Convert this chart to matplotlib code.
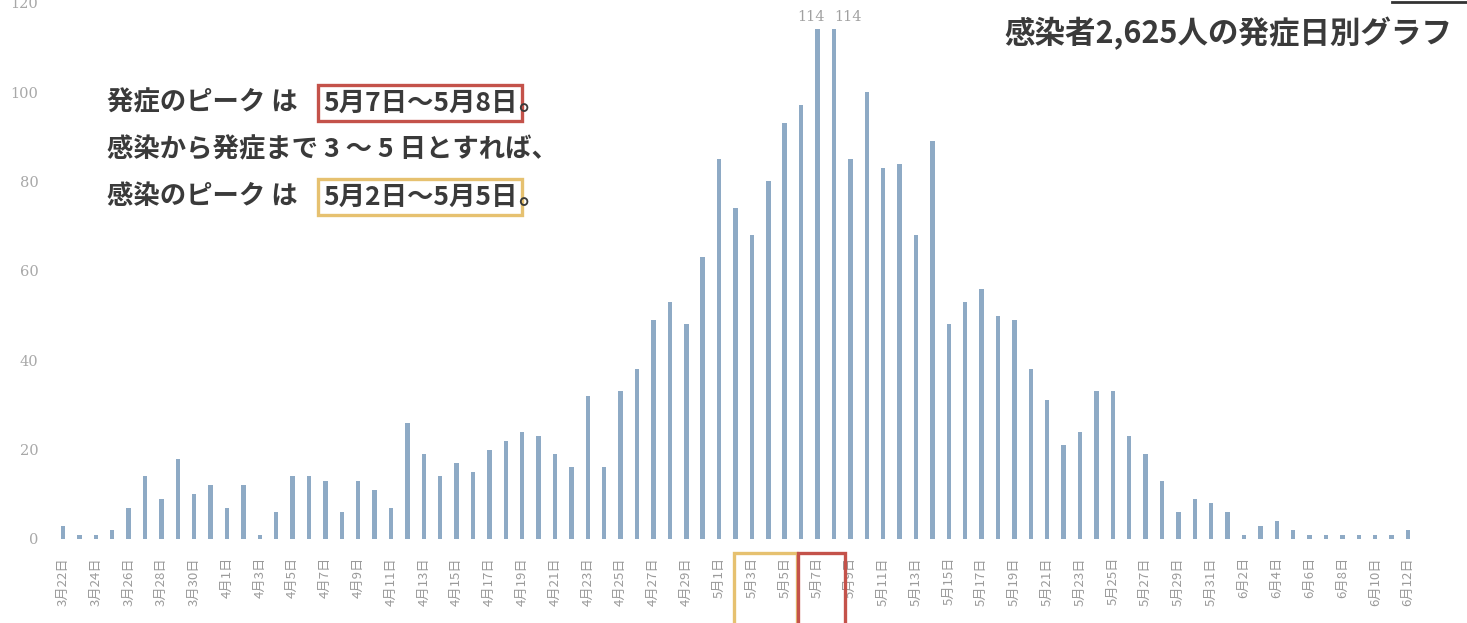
import matplotlib
matplotlib.use("Agg")
import matplotlib.pyplot as plt
from matplotlib.patches import Rectangle
from matplotlib.lines import Line2D
from matplotlib.transforms import blended_transform_factory

# cases by onset day, 3/22 .. 6/12
counts = [3, 1, 1, 2, 7, 14, 9, 18, 10, 12,
          7, 12, 1, 6, 14, 14, 13, 6, 13, 11,
          7, 26, 19, 14, 17, 15, 20, 22, 24, 23,
          19, 16, 32, 16, 33, 38, 49, 53, 48, 63,
          85, 74, 68, 80, 93, 97, 114, 114, 85, 100,
          83, 84, 68, 89, 48, 53, 56, 50, 49, 38,
          31, 21, 24, 33, 33, 23, 19, 13, 6, 9,
          8, 6, 1, 3, 4, 2, 1, 1, 1, 1,
          1, 1, 2]

# every other day is labelled
tick_labels = ["3月22日", "3月24日", "3月26日", "3月28日", "3月30日",
               "4月1日", "4月3日", "4月5日", "4月7日", "4月9日",
               "4月11日", "4月13日", "4月15日", "4月17日", "4月19日",
               "4月21日", "4月23日", "4月25日", "4月27日", "4月29日",
               "5月1日", "5月3日", "5月5日", "5月7日", "5月9日",
               "5月11日", "5月13日", "5月15日", "5月17日", "5月19日",
               "5月21日", "5月23日", "5月25日", "5月27日", "5月29日",
               "5月31日", "6月2日", "6月4日", "6月6日", "6月8日",
               "6月10日", "6月12日"]
yticks = [0, 20, 40, 60, 80, 100, 120]

title = "感染者2,625人の発症日別グラフ"
note1 = ["発症のピーク は", "5月7日～5月8日", "。"]
note2 = "感染から発症まで 3 ～ 5 日とすれば、"
note3 = ["感染のピーク は", "5月2日～5月5日", "。"]

JP = ["Noto Sans CJK JP", "DejaVu Sans"]
W, H = 1467, 623

fig = plt.figure(figsize=(W / 100, H / 100), dpi=100)
fig.patch.set_facecolor("white")
ax = fig.add_axes([46.6 / W, 1 - 539 / H, 1386 / W, 536.4 / H])

x = list(range(len(counts)))
ax.bar(x, counts, width=0.27, color="#8eaac5", zorder=2)
ax.set_xlim(-1, 83.5)
ax.set_ylim(0, 120)

for s in ax.spines.values():
    s.set_visible(False)
ax.set_yticks(yticks)
ax.set_yticklabels([str(v) for v in yticks], family="DejaVu Serif",
                   fontsize=10.5, color="#a8a8a8")
ax.set_xticks(x[::2])
ax.set_xticklabels(tick_labels, rotation=90, family=JP, fontsize=9.5,
                   color="#9a9a9a")
ax.tick_params(axis="both", length=0)
ax.tick_params(axis="x", pad=13)
ax.tick_params(axis="y", pad=6)

# the two peak labels
peak = max(counts)
peaks = [i for i, v in enumerate(counts) if v == peak]
for i, dx in zip(peaks, (-5, 10)):
    ax.annotate(str(peak), (i, peak), xytext=(dx, 4), textcoords="offset points",
                ha="center", va="bottom", family="DejaVu Serif", fontsize=10.5,
                color="#a0a0a0", annotation_clip=False)

# boxes around some of the date labels
tr = blended_transform_factory(ax.transData, fig.transFigure)
box_h = 1 - 553 / H + 0.05
ax.add_patch(Rectangle((40.9, -0.05), 3.85, box_h, transform=tr,
                       fill=False, ec="#e6c170", lw=2.4, clip_on=False, zorder=5))
ax.add_patch(Rectangle((44.8, -0.05), 2.9, box_h, transform=tr,
                       fill=False, ec="#c4524a", lw=2.4, clip_on=False, zorder=5))

# notes
txt = dict(family=JP, fontsize=19, weight="bold", color="#3a3a3a", va="center")
fig.text(107 / W, 1 - 103 / H, note1[0], **txt)
fig.text(323 / W, 1 - 103 / H, note1[1],
         bbox=dict(boxstyle="square,pad=0.18", fc="white", ec="#c4524a", lw=2.4), **txt)
fig.text(518 / W, 1 - 103 / H, note1[2], **txt)
fig.text(107 / W, 1 - 150 / H, note2, **txt)
fig.text(107 / W, 1 - 197 / H, note3[0], **txt)
fig.text(323 / W, 1 - 197 / H, note3[1],
         bbox=dict(boxstyle="square,pad=0.18", fc="white", ec="#e6c170", lw=2.4), **txt)
fig.text(518 / W, 1 - 197 / H, note3[2], **txt)

fig.text(1452 / W, 1 - 33 / H, title, family=JP, fontsize=22, weight="bold",
         color="#3a3a3a", ha="right", va="center")
fig.add_artist(Line2D([1392 / W, 1.0], [1 - 2 / H, 1 - 2 / H], color="#333333", lw=2))

fig.savefig("out.png", dpi=100)
